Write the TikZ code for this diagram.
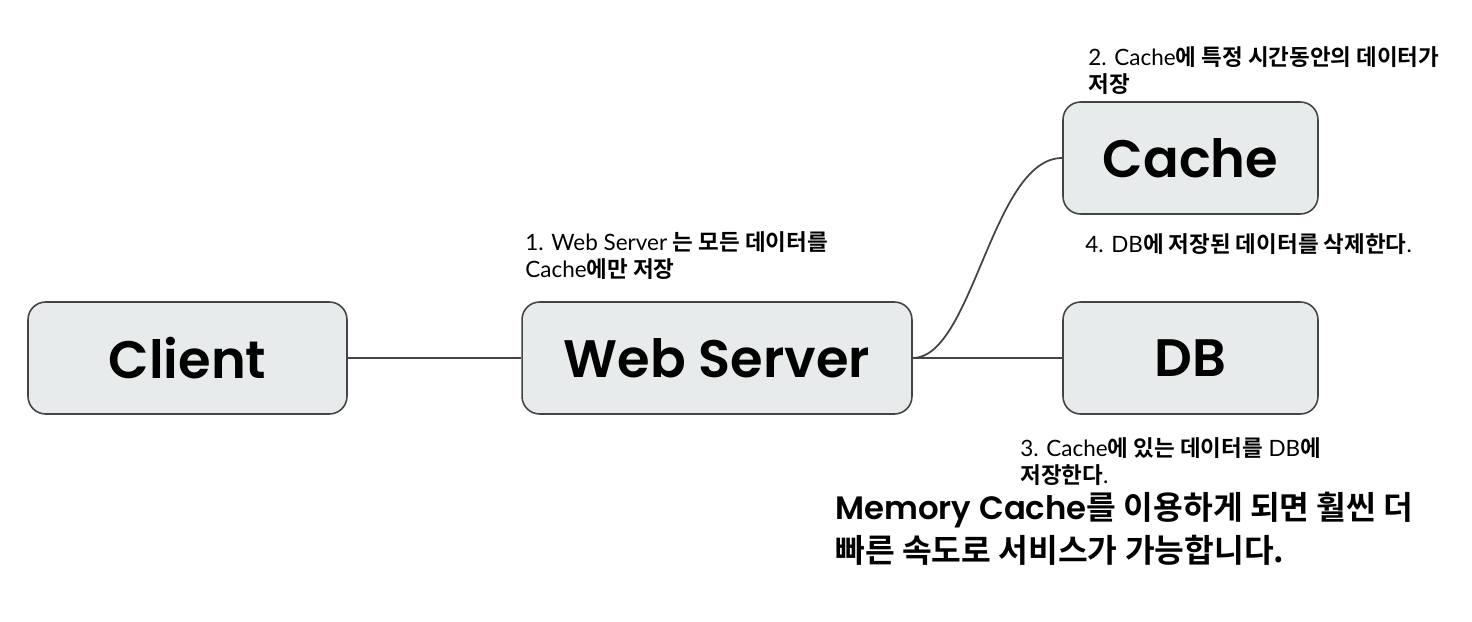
\documentclass[tikz,border=0pt]{standalone}
\usepackage{fontspec}
\usetikzlibrary{positioning}
\setmainfont{Lato}
\newfontfamily\kr{Noto Sans CJK KR}[BoldFont={* Bold}]
\newfontfamily\boxfont{Poppins}[BoldFont={* SemiBold}]
\definecolor{boxgray}{HTML}{E8EBEC}
\definecolor{linegray}{HTML}{444444}
\newcommand{\ko}[1]{{\kr\bfseries #1}}
\tikzset{
        % Component boxes
        compbox/.style={draw=linegray, line width=0.9pt, fill=boxgray, rounded corners=10pt,
                minimum height=2.24cm, inner sep=0pt, font=\boxfont\bfseries\fontsize{30}{36}\selectfont},
        % Step notes
        stepnote/.style={align=left, inner sep=0pt, anchor=north west,
                font=\fontsize{12.8}{15.3}\selectfont},
        % Links
        link/.style={draw=linegray, line width=1pt}
}
\begin{document}
\begin{tikzpicture}[x=0.02cm, y=-0.02cm]
    \useasboundingbox (0,0) rectangle (1472,622);
    \node[compbox, minimum width=6.38cm] (client) at (187.5,358) {Client};
    \node[compbox, minimum width=7.8cm] (web) at (717,358) {Web Server};
    \node[compbox, minimum width=5.1cm] (cache) at (1190.5,158) {Cache};
    \node[compbox, minimum width=5.1cm] (db) at (1190.5,358) {DB};

    \draw[link] (client.east) -- (web.west);
    \draw[link] (web.east) -- (db.west);
    \draw[link] (web.east) .. controls +(60,0) and +(-70,0) .. (cache.west);

    \node[stepnote] (note1) at (525,231) {1. Web Server \ko{는 모든 데이터를}\\Cache\ko{에만 저장}};
    \node[stepnote] (note2) at (1088,46) {2. Cache\ko{에 특정 시간동안의 데이터가}\\\ko{저장}};
    \node[stepnote] (note4) at (1085,233) {4. DB\ko{에 저장된 데이터를 삭제한다}.};
    \node[stepnote] (note3) at (1020,437) {3. Cache\ko{에 있는 데이터를} DB\ko{에}\\\ko{저장한다}.};
    \node[align=left, inner sep=0pt, anchor=north west, font=\fontsize{18.4}{24.5}\selectfont] (summary) at (835,492)
        {{\boxfont\bfseries Memory Cache}{\kr\bfseries 를 이용하게 되면 훨씬 더}\\{\kr\bfseries 빠른 속도로 서비스가 가능합니다.}};
\end{tikzpicture}
\end{document}
